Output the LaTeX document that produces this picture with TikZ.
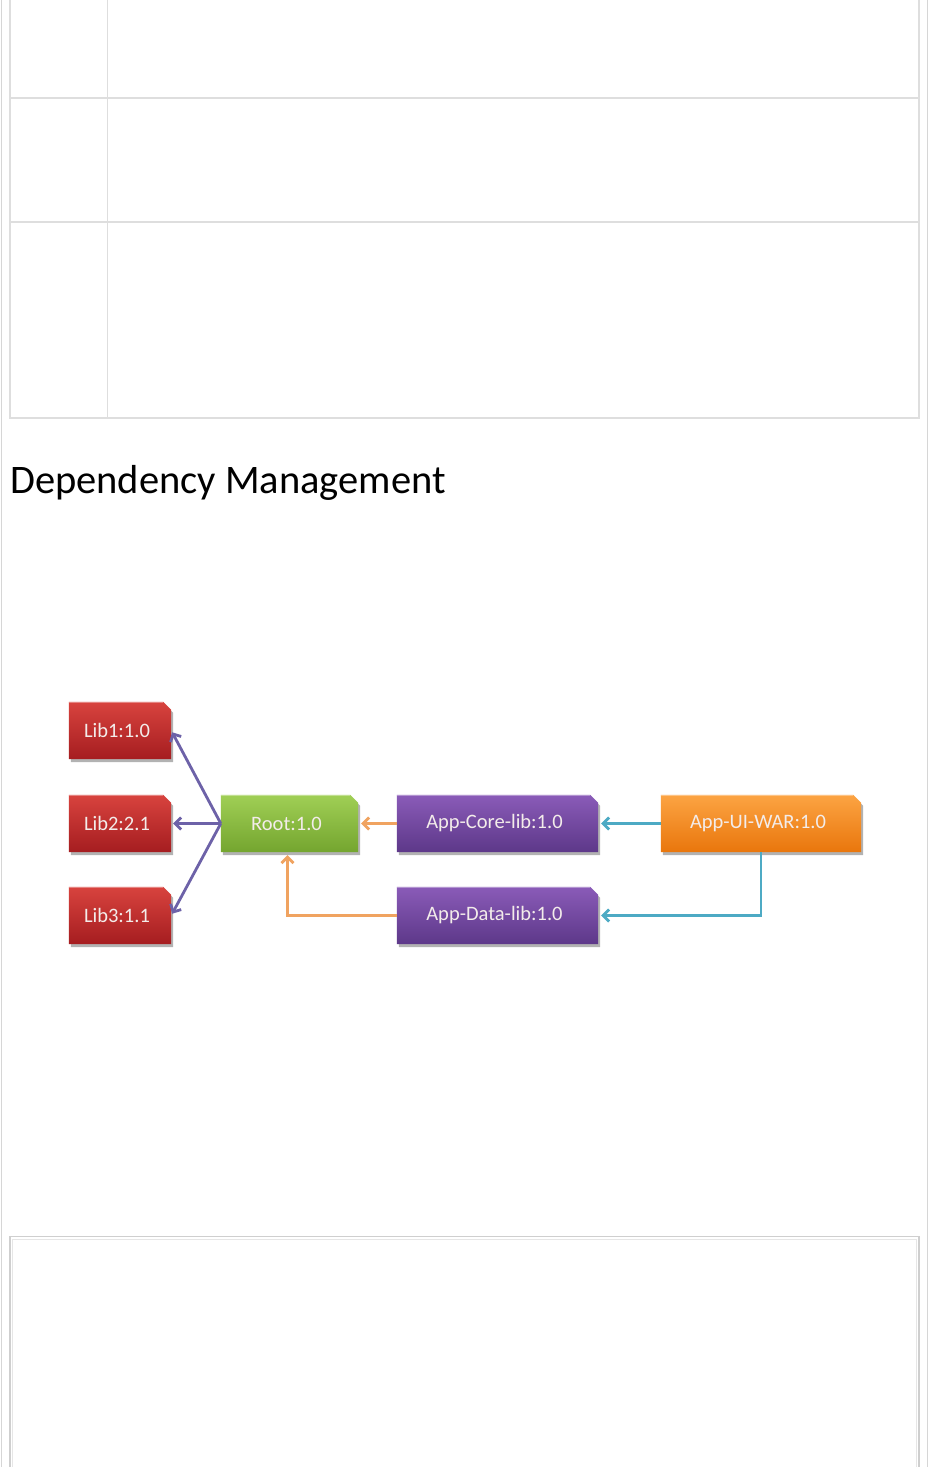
\documentclass[tikz,border=0pt]{standalone}
\usepackage{fontspec}
\setmainfont{Carlito}
\usetikzlibrary{shadows,arrows.meta,backgrounds}
\definecolor{gridc}{HTML}{DEDEDE}
\definecolor{pagec}{HTML}{D6D6D6}
\definecolor{tabouter}{HTML}{CFCFCF}
\definecolor{tabinner}{HTML}{E6E6E6}
\definecolor{redtop}{HTML}{D8433E}
\definecolor{redbot}{HTML}{A51D20}
\definecolor{greentop}{HTML}{A0CF55}
\definecolor{greenbot}{HTML}{74A52F}
\definecolor{purtop}{HTML}{8A5BB8}
\definecolor{purbot}{HTML}{5D3889}
\definecolor{orgtop}{HTML}{FCA443}
\definecolor{orgbot}{HTML}{E9760C}
\definecolor{libline}{HTML}{6D62A8}
\definecolor{rootline}{HTML}{F0A360}
\definecolor{uiline}{HTML}{4DAAC4}
\definecolor{boxtext}{HTML}{F3ECEA}
\begin{document}
\begin{tikzpicture}[x=1pt,y=-1pt,
  box/.style={rectangle, inner sep=0pt, text=boxtext, minimum height=57pt,
    font=\fontsize{20.5}{24}\selectfont},
  tipstyle/.style={-{Straight Barb[length=6pt,width=12pt]}},
  libconn/.style={draw=libline, line width=2.8pt, tipstyle, shorten >=2pt},
  rootconn/.style={draw=rootline, line width=2.8pt, tipstyle, shorten >=3pt},
  uiconn/.style={draw=uiline, line width=2.8pt, tipstyle, shorten >=3pt},
  gridline/.style={draw=gridc, line width=1.6pt},
  boxshadow/.style={drop shadow={shadow xshift=2pt, shadow yshift=-3pt, opacity=0.3, fill=black}}
]
\useasboundingbox (0,0) rectangle (929,1467);

% page borders
\draw[pagec, line width=1.5pt] (1.5,0) -- (1.5,1467);
\draw[pagec, line width=1.5pt] (927.5,0) -- (927.5,1467);

% upper table
\draw[gridline] (10,0) -- (10,418) -- (919,418) -- (919,0);
\draw[gridline] (10,98) -- (919,98);
\draw[gridline] (10,222) -- (919,222);
\draw[draw=gridc, line width=1pt] (107,0) -- (107,418);

% title
\node[anchor=base west, inner sep=0pt, text=black,
  font=\fontsize{40.5}{48}\selectfont] (title) at (10,493) {Dependency Management};

% lower table
\draw[tabouter, line width=1.6pt] (10,1467) -- (10,1236.5) -- (919,1236.5) -- (919,1467);
\draw[tabinner, line width=1.2pt] (12.5,1467) -- (12.5,1239.5) -- (916.5,1239.5) -- (916.5,1467);

% nodes
\node[box, minimum width=102pt] (lib1) at (120,730.5) {\hspace*{-6pt}Lib1:1.0};
\node[box, minimum width=102pt] (lib2) at (120,823.5) {\hspace*{-6pt}Lib2:2.1};
\node[box, minimum width=102pt] (lib3) at (120,915.5) {\hspace*{-6pt}Lib3:1.1};
\node[box, minimum width=137pt] (root) at (289.5,823.5) {\hspace*{-6pt}Root:1.0};
\node[box, minimum width=201pt] (core) at (497.5,823.5) {\hspace*{-6pt}App-Core-lib:1.0};
\node[box, minimum width=201pt] (data) at (497.5,915.5) {\hspace*{-6pt}App-Data-lib:1.0};
\node[box, minimum width=200pt] (ui) at (761,823.5) {\hspace*{-6pt}App-UI-WAR:1.0};

\begin{pgfonlayer}{background}
\fill[white] (0,0) rectangle (929,1467);
\foreach \n/\ct/\cb in {lib1/redtop/redbot, lib2/redtop/redbot, lib3/redtop/redbot,
    root/greentop/greenbot, core/purtop/purbot, data/purtop/purbot, ui/orgtop/orgbot}{
  \path[boxshadow, top color=\ct, bottom color=\cb]
    (\n.south west) -- (\n.north west) -- ([xshift=-8pt]\n.north east)
    -- ([yshift=-8pt]\n.north east) -- (\n.south east) -- cycle;
  \draw[white, opacity=0.35, line width=1pt]
    ([yshift=-1pt]\n.north west) -- ([xshift=-8pt,yshift=-1pt]\n.north east);
}
\end{pgfonlayer}

% connectors
\draw[libconn] (root.west) -- (lib1.east);
\draw[libconn] (root.west) -- (lib2.east);
\draw[libconn] (root.west) -- (lib3.east);
\draw[rootconn] (core.west) -- (root.east);
\draw[rootconn] (data.west) -| ([xshift=-2pt]root.south);
\draw[uiconn] (ui.west) -- (core.east);
\draw[uiconn] (ui.south) |- (data.east);
\end{tikzpicture}
\end{document}
